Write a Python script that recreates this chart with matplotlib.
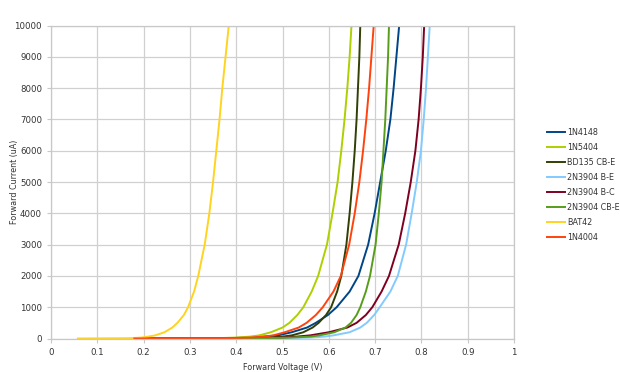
import matplotlib
matplotlib.use("Agg")
import matplotlib.pyplot as plt

# Forward current levels (uA) and the forward voltage (V) of each device at those levels
current_uA = [0, 10, 30, 60, 100, 200, 350, 500, 750, 1000, 1500, 2000,
              3000, 4000, 5000, 6000, 7000, 8000, 9000, 10000]

v_1N4148 = [0.18, 0.38, 0.43, 0.46, 0.49, 0.52, 0.553, 0.572, 0.598, 0.617, 0.645, 0.664,
            0.685, 0.699, 0.711, 0.723, 0.733, 0.740, 0.746, 0.752]
v_1N5404 = [0.18, 0.36, 0.40, 0.43, 0.45, 0.475, 0.50, 0.515, 0.532, 0.545, 0.563, 0.577,
            0.596, 0.608, 0.619, 0.627, 0.634, 0.640, 0.645, 0.649]
v_BD135 = [0.18, 0.42, 0.47, 0.50, 0.52, 0.545, 0.565, 0.578, 0.594, 0.605, 0.618, 0.627,
           0.638, 0.645, 0.651, 0.656, 0.660, 0.663, 0.666, 0.668]
v_2N3904_BE = [0.18, 0.50, 0.56, 0.59, 0.61, 0.645, 0.668, 0.682, 0.698, 0.710, 0.733, 0.749,
               0.767, 0.779, 0.790, 0.799, 0.805, 0.810, 0.814, 0.818]
v_2N3904_BC = [0.18, 0.44, 0.50, 0.53, 0.56, 0.60, 0.64, 0.660, 0.680, 0.694, 0.714, 0.730,
               0.751, 0.765, 0.777, 0.787, 0.794, 0.799, 0.803, 0.806]
v_2N3904_CBE = [0.18, 0.46, 0.52, 0.56, 0.58, 0.612, 0.636, 0.648, 0.660, 0.668, 0.680, 0.689,
                0.701, 0.708, 0.714, 0.718, 0.722, 0.725, 0.728, 0.730]
v_BAT42 = [0.058, 0.17, 0.195, 0.21, 0.225, 0.245, 0.262, 0.273, 0.287, 0.296, 0.309, 0.318,
           0.332, 0.342, 0.350, 0.357, 0.364, 0.370, 0.377, 0.384]
v_1N4004 = [0.18, 0.38, 0.43, 0.46, 0.48, 0.505, 0.535, 0.552, 0.572, 0.587, 0.610, 0.626,
            0.644, 0.656, 0.666, 0.674, 0.681, 0.687, 0.692, 0.697]

series_names = ["1N4148", "1N5404", "BD135 CB-E", "2N3904 B-E", "2N3904 B-C",
                "2N3904 CB-E", "BAT42", "1N4004"]
series_volts = [v_1N4148, v_1N5404, v_BD135, v_2N3904_BE, v_2N3904_BC,
                v_2N3904_CBE, v_BAT42, v_1N4004]
series_colors = ["#004586", "#aecf00", "#314004", "#83caff", "#7e0021",
                 "#579d1c", "#ffd320", "#ff420e"]

x_ticks = [0, 0.1, 0.2, 0.3, 0.4, 0.5, 0.6, 0.7, 0.8, 0.9, 1]
x_tick_labels = ["0", "0.1", "0.2", "0.3", "0.4", "0.5", "0.6", "0.7", "0.8", "0.9", "1"]
y_ticks = list(range(0, 10001, 1000))

fig = plt.figure(figsize=(6.2, 3.72), dpi=100)
ax = fig.add_axes([51 / 620, 1 - 338.5 / 372, (514 - 51) / 620, (338.5 - 25.5) / 372])

for name, volts, col in zip(series_names, series_volts, series_colors):
    ax.plot(volts, current_uA, color=col, lw=1.4, label=name, solid_joinstyle="round")

ax.set_xlim(0, 1)
ax.set_ylim(0, 10000)
ax.set_xticks(x_ticks)
ax.set_xticklabels(x_tick_labels)
ax.set_yticks(y_ticks)
ax.grid(True, color="#d0d0d0", lw=0.9)
ax.set_axisbelow(True)
for s in ax.spines.values():
    s.set_color("#c8c8c8")
    s.set_linewidth(0.9)
ax.tick_params(axis="both", labelsize=6.2, colors="#c8c8c8", labelcolor="#333333",
               length=3, width=0.8)

fig.text(282.5 / 620, 1 - 367 / 372, "Forward Voltage (V)", fontsize=5.8, color="#333333",
         ha="center", va="center")
fig.text(15 / 620, 1 - 182 / 372, "Forward Current (uA)", fontsize=5.8, color="#333333",
         ha="center", va="center", rotation=90)

leg = fig.legend(loc="center left", bbox_to_anchor=(540 / 620, 0.503), frameon=False,
                 fontsize=5.8, handlelength=2.2, handletextpad=0.3, labelspacing=0.75)
for t in leg.get_texts():
    t.set_color("#333333")

fig.savefig("out.png", dpi=100)
